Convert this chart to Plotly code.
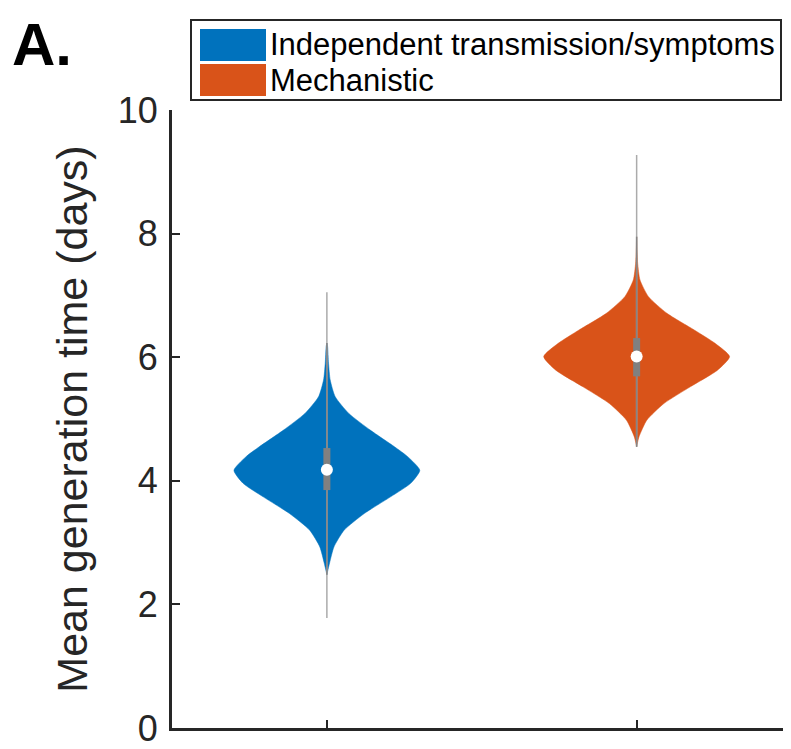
import plotly.graph_objects as go

# ---- data ----
categories = ["Independent transmission/symptoms", "Mechanistic"]
positions = [1, 2]
colors = ["#0072BD", "#D95319"]

# kernel density profiles (y value, relative density; 1 = widest)
blue_y = [6.23, 6.17, 5.90, 5.63, 5.36, 5.09, 4.82, 4.55, 4.39, 4.17, 3.96, 3.74, 3.47, 3.20, 2.93, 2.67, 2.48]
blue_d = [0.0, 0.008, 0.018, 0.036, 0.09, 0.236, 0.467, 0.728, 0.87, 1.0, 0.902, 0.685, 0.402, 0.185, 0.076, 0.029, 0.0]
orange_y = [7.95, 7.79, 7.52, 7.25, 6.98, 6.71, 6.44, 6.22, 6.01, 5.79, 5.52, 5.25, 4.98, 4.71, 4.55]
orange_d = [0.0, 0.003, 0.011, 0.036, 0.127, 0.326, 0.62, 0.848, 1.0, 0.87, 0.576, 0.293, 0.109, 0.025, 0.0]

data_min = [1.78, 4.55]
data_max = [7.05, 9.27]
whisker_lo = [2.48, 4.55]
whisker_hi = [6.23, 7.95]
q1 = [3.85, 5.69]
q3 = [4.53, 6.31]
medians = [4.18, 6.01]

y_ticks = [0, 2, 4, 6, 8, 10]

# ---- styling ----
FONT = "Liberation Sans, Arial, Helvetica, sans-serif"
AX = "#262626"
HALF_W = 0.30
OFF = 8  # page body margin of the browser

fig = go.Figure()

profiles = [(blue_y, blue_d), (orange_y, orange_d)]
for i, (ys, ds) in enumerate(profiles):
    p = positions[i]
    xs_right = [p + HALF_W * d for d in ds]
    xs_left = [p - HALF_W * d for d in ds]
    xs = xs_right + xs_left[::-1]
    yy = ys + ys[::-1]
    fig.add_trace(go.Scatter(
        x=xs, y=yy, mode="lines", fill="toself",
        fillcolor=colors[i], line=dict(color=colors[i], width=0.5, shape="spline", smoothing=0.6),
        name=categories[i], showlegend=False, hoverinfo="skip"))

for i, p in enumerate(positions):
    fig.add_trace(go.Scatter(x=[p, p], y=[data_min[i], data_max[i]], mode="lines",
                             line=dict(color="#ABABAB", width=1.5), showlegend=False, hoverinfo="skip"))
    fig.add_trace(go.Scatter(x=[p, p], y=[whisker_lo[i], whisker_hi[i]], mode="lines",
                             line=dict(color="#858585", width=1.5), showlegend=False, hoverinfo="skip"))
    fig.add_trace(go.Scatter(x=[p, p], y=[q1[i], q3[i]], mode="lines",
                             line=dict(color="#808080", width=7), showlegend=False, hoverinfo="skip"))
    fig.add_trace(go.Scatter(x=[p], y=[medians[i]], mode="markers",
                             marker=dict(color="white", size=12, line=dict(width=0)),
                             showlegend=False, hoverinfo="skip"))

# ---- layout in screen pixels of the reference ----
W, H = 791 - 2 * OFF, 749 - OFF
PL, PT, PB = 172 - OFF, 110 - OFF, 728 - OFF
PR = W
PW, PH = PR - PL, PB - PT
UNIT = (637 - 328)  # screen px per category step
x_hi = 2 + (PR + OFF - 637) / UNIT

def px(x):
    return (x - OFF - PL) / PW

def py(y):
    return (PB - (y - OFF)) / PH

shapes = [dict(type="rect", xref="paper", yref="paper", x0=px(191), x1=px(781), y0=py(100), y1=py(20),
               line=dict(color=AX, width=2), fillcolor="white", layer="above")]
legend_rows = [(29, 61), (64, 96)]
annotations = []
for i, (t, b) in enumerate(legend_rows):
    shapes.append(dict(type="rect", xref="paper", yref="paper", x0=px(200), x1=px(266),
                       y0=py(b), y1=py(t), line=dict(width=0), fillcolor=colors[i], layer="above"))
    annotations.append(dict(xref="paper", yref="paper", x=px(268), y=py((t + b) / 2),
                            xanchor="left", yanchor="middle", showarrow=False,
                            text=categories[i], font=dict(family=FONT, size=31, color="#000000")))

annotations.append(dict(xref="paper", yref="paper", x=px(10), y=py(8.5), xanchor="left", yanchor="top",
                        showarrow=False, text="<b>A.</b>", font=dict(family=FONT, size=60, color="#000000")))

fig.update_layout(
    width=W, height=H,
    margin=dict(l=PL, r=W - PR, t=PT, b=H - PB, autoexpand=False),
    paper_bgcolor="white", plot_bgcolor="white",
    shapes=shapes, annotations=annotations,
    showlegend=False,
    font=dict(family=FONT, color=AX),
)
fig.update_xaxes(range=[0.5, x_hi], tickvals=positions, ticktext=["", ""], ticks="inside",
                 ticklen=8, tickwidth=2, tickcolor=AX, showline=True, linewidth=3, linecolor=AX,
                 showgrid=False, zeroline=False, automargin=False)
fig.update_yaxes(range=[0, 10], tickvals=y_ticks, ticks="inside", ticklen=8, tickwidth=2, tickcolor=AX,
                 showline=True, linewidth=3, linecolor=AX, showgrid=False, zeroline=False,
                 tickfont=dict(family=FONT, size=36, color=AX), ticklabelstandoff=4,
                 ticklabeloverflow="allow", automargin=False,
                 title=dict(text="Mean generation time (days)", font=dict(family=FONT, size=43, color=AX),
                            standoff=17))

fig.write_html("out.html")
